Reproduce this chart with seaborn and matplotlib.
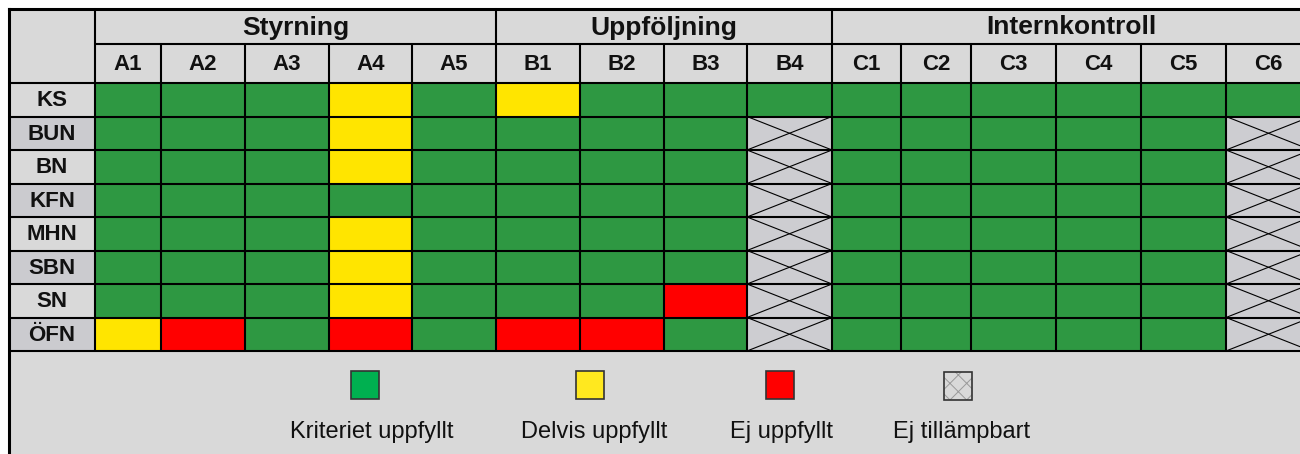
import numpy as np
import pandas as pd
import matplotlib
matplotlib.use("Agg")
import matplotlib.pyplot as plt
from matplotlib.colors import ListedColormap
from matplotlib.patches import Rectangle
import seaborn as sns

sns.set_theme(style="white")
plt.rcParams['font.family'] = ['Liberation Sans', 'DejaVu Sans']
plt.rcParams['hatch.linewidth'] = 0.7

#---------------------------------- data ----------------------------------#
rows = ['KS', 'BUN', 'BN', 'KFN', 'MHN', 'SBN', 'SN', 'ÖFN']
cols = ['A1', 'A2', 'A3', 'A4', 'A5',
        'B1', 'B2', 'B3', 'B4',
        'C1', 'C2', 'C3', 'C4', 'C5', 'C6']
groups = ['Styrning', 'Uppföljning', 'Internkontroll']
group_size = [5, 4, 6]
status_names = ['Kriteriet uppfyllt', 'Delvis uppfyllt', 'Ej uppfyllt', 'Ej tillämpbart']

# 0 = uppfyllt, 1 = delvis, 2 = ej uppfyllt, 3 = ej tillämpbart
ks  = [0, 0, 0, 1, 0,  1, 0, 0, 0,  0, 0, 0, 0, 0, 0]
bun = [0, 0, 0, 1, 0,  0, 0, 0, 3,  0, 0, 0, 0, 0, 3]
bn  = [0, 0, 0, 1, 0,  0, 0, 0, 3,  0, 0, 0, 0, 0, 3]
kfn = [0, 0, 0, 0, 0,  0, 0, 0, 3,  0, 0, 0, 0, 0, 3]
mhn = [0, 0, 0, 1, 0,  0, 0, 0, 3,  0, 0, 0, 0, 0, 3]
sbn = [0, 0, 0, 1, 0,  0, 0, 0, 3,  0, 0, 0, 0, 0, 3]
sn  = [0, 0, 0, 1, 0,  0, 0, 2, 3,  0, 0, 0, 0, 0, 3]
ofn = [1, 2, 0, 2, 0,  2, 2, 0, 3,  0, 0, 0, 0, 0, 3]

df = pd.DataFrame([ks, bun, bn, kfn, mhn, sbn, sn, ofn], index=rows, columns=cols)

#---------------------------------- styles ----------------------------------#
cell_colors = ['#2E9842', '#FFE500', '#FF0000', '#CDCDD1']
legend_colors = ['#00B050', '#FFE81F', '#FF0000', '#D9D9D9']
head_gray = '#D9D9D9'
row_gray = ['#D9D9D9', '#CBCBCF']
cmap = ListedColormap(cell_colors)

# layout in pixels (figure is 1300 x 454)
W, H = 1300, 454
x_edges = [95, 161, 245, 329, 412, 496, 580, 664, 747, 832, 901, 971, 1056, 1141, 1226, 1311]
left, y_top, y_mid, y_head = 9, 9, 44, 83
row_h = 33.5
y_bot = y_head + row_h * len(rows)

fig = plt.figure(figsize=(W / 100, H / 100), dpi=100)
fig.patch.set_facecolor('white')

# one heatmap per column so the column widths can differ
for j, col in enumerate(cols):
    x0, x1 = x_edges[j], x_edges[j + 1]
    ax = fig.add_axes([x0 / W, 1 - y_bot / H, (x1 - x0) / W, (y_bot - y_head) / H])
    sns.heatmap(df[[col]], ax=ax, cmap=cmap, vmin=-0.5, vmax=3.5, cbar=False,
                xticklabels=False, yticklabels=False, linewidths=0)
    # cross over the not-applicable cells
    for i, v in enumerate(df[col]):
        if v == 3:
            ax.plot([0, 1], [i, i + 1], color='black', lw=0.8)
            ax.plot([0, 1], [i + 1, i], color='black', lw=0.8)
    ax.set_xlabel('')
    ax.set_ylabel('')
    ax.set_axis_off()

# overlay in pixel coordinates for headers, grid and legend
ov = fig.add_axes([0, 0, 1, 1], zorder=5)
ov.set_xlim(0, W)
ov.set_ylim(H, 0)
ov.set_axis_off()

# backgrounds
ov.add_patch(Rectangle((left, y_top), x_edges[-1] - left, y_head - y_top, color=head_gray, lw=0))
ov.add_patch(Rectangle((left, y_bot), x_edges[-1] - left, H - y_bot + 5, color=head_gray, lw=0))
for i in range(len(rows)):
    ov.add_patch(Rectangle((left, y_head + i * row_h), x_edges[0] - left, row_h,
                           color=row_gray[i % 2], lw=0))

# grid lines
lw_in, lw_out = 1.5, 2.2
for i in range(len(rows) + 1):
    ov.plot([left, x_edges[-1]], [y_head + i * row_h] * 2, color='black', lw=lw_in)
ov.plot([x_edges[0], x_edges[-1]], [y_mid, y_mid], color='black', lw=lw_in)
for x in x_edges[:-1]:
    ov.plot([x, x], [y_mid, y_bot], color='black', lw=lw_in)
group_edges = np.cumsum([0] + group_size)
for g in group_edges[:-1]:
    ov.plot([x_edges[g], x_edges[g]], [y_top, y_mid], color='black', lw=lw_in)
ov.plot([left, x_edges[-1]], [y_top, y_top], color='black', lw=lw_out, solid_capstyle='projecting')
ov.plot([left, left], [y_top, H + 5], color='black', lw=lw_out, solid_capstyle='projecting')

# header texts
for k, name in enumerate(groups):
    xa, xb = x_edges[group_edges[k]], x_edges[group_edges[k + 1]]
    ov.text((xa + xb) / 2, (y_top + y_mid) / 2 + 1, name, ha='center', va='center',
            fontsize=19, fontweight='bold', color='#111111')
for j, col in enumerate(cols):
    ov.text((x_edges[j] + x_edges[j + 1]) / 2, (y_mid + y_head) / 2 + 1, col,
            ha='center', va='center', fontsize=16, fontweight='bold', color='#111111')
for i, r in enumerate(rows):
    ov.text((left + x_edges[0]) / 2, y_head + (i + 0.5) * row_h + 1, r,
            ha='center', va='center', fontsize=16, fontweight='bold', color='#111111')

# legend
leg_box_x = [365, 590, 780, 958]
leg_text_x = [372, 594, 781, 962]
box = 28
for k, name in enumerate(status_names):
    cx = leg_box_x[k]
    if k == 3:
        ov.add_patch(Rectangle((cx - box / 2, 372), box, box, facecolor=legend_colors[k],
                               edgecolor='#9A9A9A', hatch='xx', lw=0))
        ov.add_patch(Rectangle((cx - box / 2, 372), box, box, fill=False,
                               edgecolor='#333333', lw=1.2))
    else:
        ov.add_patch(Rectangle((cx - box / 2, 371), box, box, facecolor=legend_colors[k],
                               edgecolor='#333333', lw=1.2))
    ov.text(leg_text_x[k], 432, name, ha='center', va='center', fontsize=17, color='#111111')

fig.savefig('out.png', dpi=100)
